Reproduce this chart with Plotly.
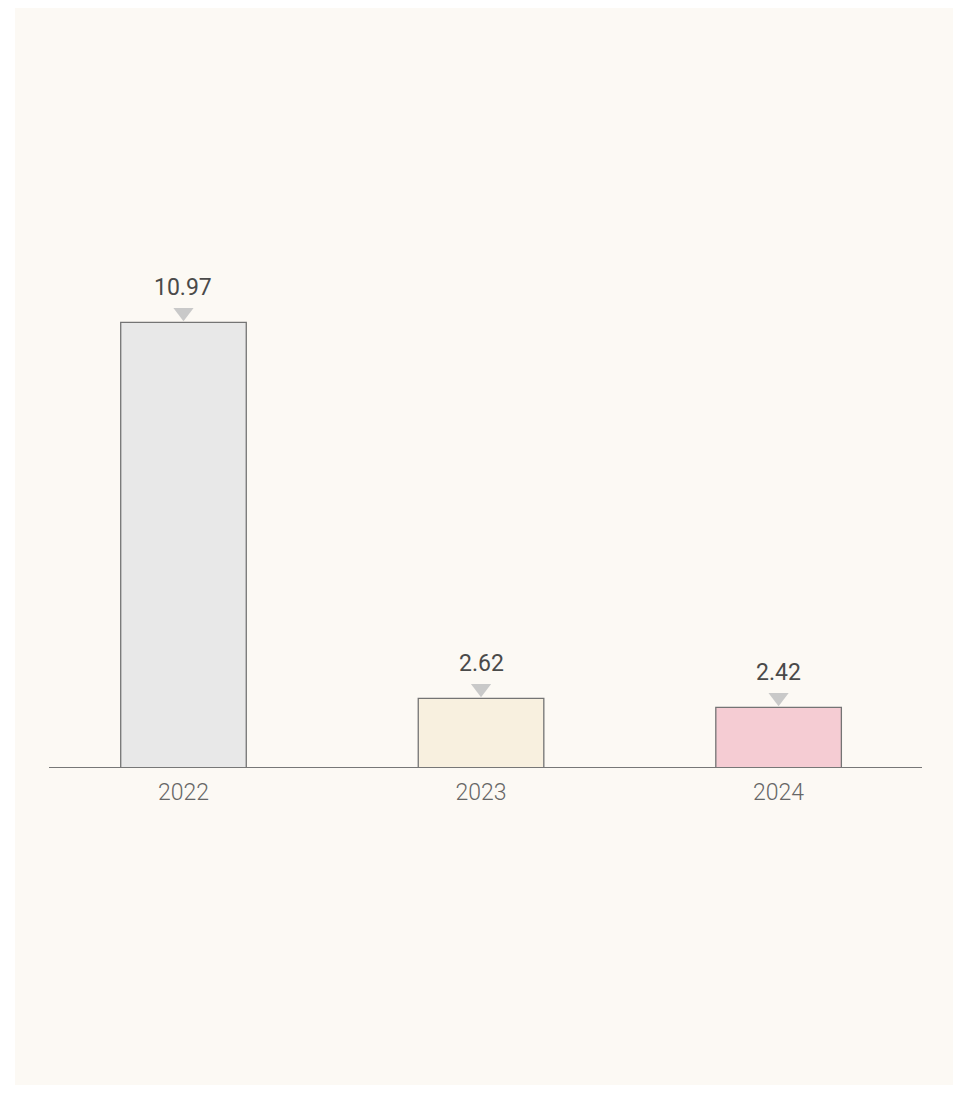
import plotly.graph_objects as go

years = ["2022", "2023", "2024"]
values = [10.97, 2.62, 2.42]
labels = ["10.97", "2.62", "2.42"]
bar_colors = ["#e8e8e8", "#f8f0df", "#f5ccd3"]

W, H = 946, 1095
ml, mr, mt, mb = 41, 32, 100, 336
plot_w = W - ml - mr
plot_h = H - mt - mb
y_min = 1.094
px_per_unit = 45.03
y_max = y_min + plot_h / px_per_unit
tri_off = 9.8 / px_per_unit

fig = go.Figure()
fig.add_trace(go.Bar(
    x=[0, 1, 2], y=values, width=0.422,
    marker=dict(color=bar_colors, line=dict(color="#747474", width=1.3)),
    hoverinfo="skip", showlegend=False,
))
fig.add_trace(go.Scatter(
    x=[0, 1, 2], y=[v + tri_off for v in values], mode="markers",
    marker=dict(symbol="triangle-down", size=17.5, color="#c9c9c9", line=dict(width=0)),
    hoverinfo="skip", showlegend=False, cliponaxis=False,
))
for i, (v, t) in enumerate(zip(values, labels)):
    fig.add_annotation(x=i, y=v, text=t, showarrow=False, yanchor="middle", yshift=35,
                       font=dict(family="Roboto", size=23, color="#4a4a4a", weight=400))

fig.add_shape(type="rect", xref="paper", yref="paper", layer="below",
              x0=(7 - ml) / plot_w, x1=(945 - ml) / plot_w,
              y0=(mt + plot_h - 1077) / plot_h, y1=(mt + plot_h) / plot_h,
              fillcolor="#fcf9f4", line=dict(width=0))

fig.update_layout(
    width=W, height=H,
    margin=dict(l=ml, r=mr, t=mt, b=mb),
    paper_bgcolor="white", plot_bgcolor="rgba(0,0,0,0)",
    bargap=0.58,
    xaxis=dict(range=[-0.452, 2.482], tickvals=[0, 1, 2], ticktext=years,
               showgrid=False, zeroline=False, showline=True, linecolor="#777777", linewidth=1.3,
               ticks="", ticklabelstandoff=4,
               tickfont=dict(family="Roboto", size=23, color="#666666", weight=300)),
    yaxis=dict(range=[y_min, y_max], visible=False, showgrid=False, zeroline=False),
)
fig.write_html("out.html")
